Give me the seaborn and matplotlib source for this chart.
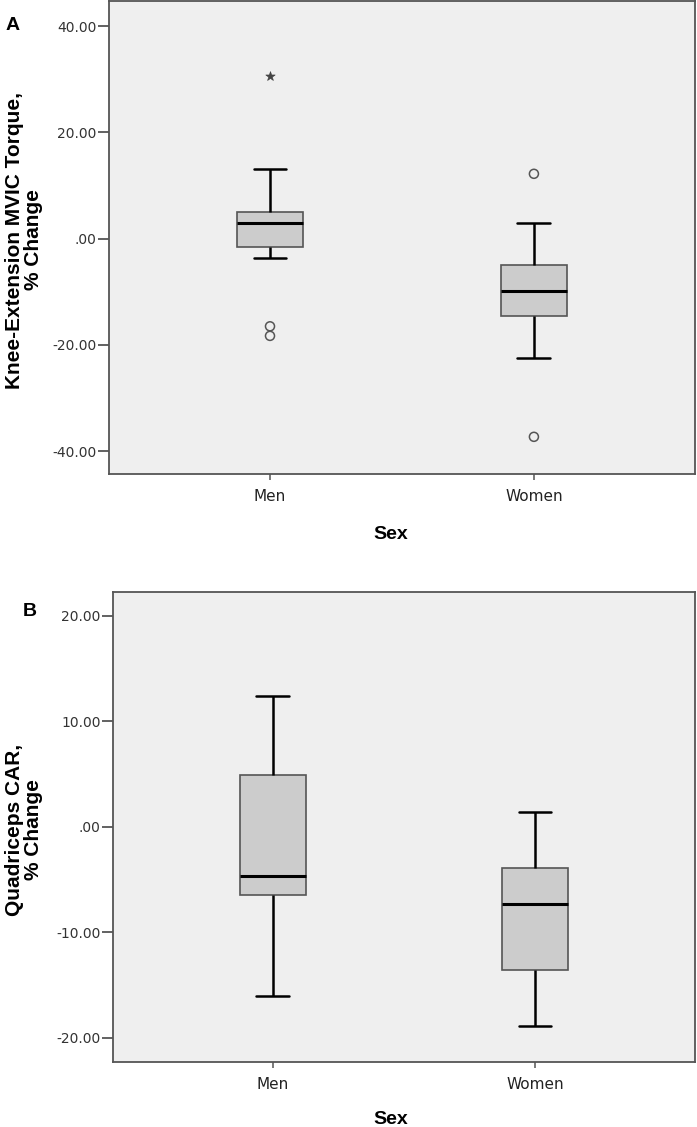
import numpy as np
import pandas as pd
import matplotlib
matplotlib.use("Agg")
import matplotlib.pyplot as plt
from matplotlib.ticker import FuncFormatter
import seaborn as sns

# categories
groups = ["Men", "Women"]

# panel A - knee extension MVIC torque, % change
a_whislo = [-3.6, -22.5]
a_q1 = [-1.6, -14.5]
a_med = [2.9, -9.8]
a_q3 = [5.0, -5.0]
a_whishi = [13.1, 3.0]
a_out_sex = ["Men", "Men", "Women", "Women"]
a_out_val = [-16.5, -18.3, 12.2, -37.3]
a_ext_sex = ["Men"]
a_ext_val = [30.6]

# panel B - quadriceps CAR, % change
b_whislo = [-16.0, -18.9]
b_q1 = [-6.5, -13.6]
b_med = [-4.7, -7.3]
b_q3 = [4.9, -3.9]
b_whishi = [12.4, 1.4]

a_ticks = [-40, -20, 0, 20, 40]
b_ticks = [-20, -10, 0, 10, 20]


def five_num(lo, q1, med, q3, hi):
    # five numbers per group -> quartiles come out exact with whis=(0, 100)
    rows = []
    for i, g in enumerate(groups):
        for v in [lo[i], q1[i], med[i], q3[i], hi[i]]:
            rows.append({"sex": g, "val": v})
    return pd.DataFrame(rows)


def spss_fmt(v, pos):
    s = f"{v:.2f}"
    if s.startswith("0."):
        s = s[1:]
    return s


sns.set_theme(style="ticks")
plt.rcParams["font.family"] = ["DejaVu Sans"]
plt.rcParams["axes.unicode_minus"] = False

fig = plt.figure(figsize=(6.97, 11.27), dpi=100)
ax_a = fig.add_axes([0.1564, 0.5794, 0.8406, 0.4196])
ax_b = fig.add_axes([0.1621, 0.0579, 0.8349, 0.4165])

box_kw = dict(
    x="sex", y="val", order=groups, whis=(0, 100), width=0.25,
    color="#cccccc", saturation=1, fill=True, showfliers=False,
    boxprops={"edgecolor": "#555555", "linewidth": 1.2},
    medianprops={"color": "black", "linewidth": 2.2},
    whiskerprops={"color": "black", "linewidth": 1.8},
    capprops={"color": "black", "linewidth": 1.8},
)

sns.boxplot(data=five_num(a_whislo, a_q1, a_med, a_q3, a_whishi), ax=ax_a, **box_kw)
sns.stripplot(x=a_out_sex, y=a_out_val, order=groups, jitter=False, ax=ax_a,
              marker="o", size=6.5, color="#555555", facecolor="none",
              edgecolor="#555555", linewidth=1.1)
sns.stripplot(x=a_ext_sex, y=a_ext_val, order=groups, jitter=False, ax=ax_a,
              marker="*", size=7, color="#444444", edgecolor="#444444", linewidth=0.5)

sns.boxplot(data=five_num(b_whislo, b_q1, b_med, b_q3, b_whishi), ax=ax_b, **box_kw)

for ax, ticks, lim in [(ax_a, a_ticks, (-44.3, 44.7)), (ax_b, b_ticks, (-22.25, 22.2))]:
    ax.set_facecolor("#efefef")
    ax.set_xlim(-0.61, 1.61)
    ax.set_ylim(*lim)
    ax.set_yticks(ticks)
    ax.yaxis.set_major_formatter(FuncFormatter(spss_fmt))
    ax.set_xlabel("")
    ax.set_ylabel("")
    for sp in ax.spines.values():
        sp.set_visible(True)
        sp.set_color("#555555")
        sp.set_linewidth(1.3)
    ax.tick_params(axis="y", length=8, width=1.3, color="#555555", pad=1,
                   labelsize=10, labelcolor="#333333")
    ax.tick_params(axis="x", length=4, width=1.1, color="#555555", pad=7,
                   labelsize=11, labelcolor="#222222")
    ax.grid(False)

# axis titles and panel letters
bold = dict(fontweight="bold", color="black", family=["Liberation Sans", "DejaVu Sans"])
fig.text(0.034, 0.7870, "Knee-Extension MVIC Torque,\n% Change", rotation=90,
         ha="center", va="center", multialignment="center", linespacing=1.0,
         fontsize=15, **bold)
fig.text(0.034, 0.2640, "Quadriceps CAR,\n% Change", rotation=90,
         ha="center", va="center", multialignment="center", linespacing=1.0,
         fontsize=15, **bold)
fig.text(0.56, 1 - 535 / 1127, "Sex", ha="center", va="center", fontsize=14, **bold)
fig.text(0.56, 1 - 1119 / 1127, "Sex", ha="center", va="center", fontsize=14, **bold)
fig.text(13 / 697, 1 - 25 / 1127, "A", ha="center", va="center", fontsize=14, **bold)
fig.text(30 / 697, 1 - 612 / 1127, "B", ha="center", va="center", fontsize=14, **bold)

fig.savefig("out.png", dpi=100, facecolor="white")
